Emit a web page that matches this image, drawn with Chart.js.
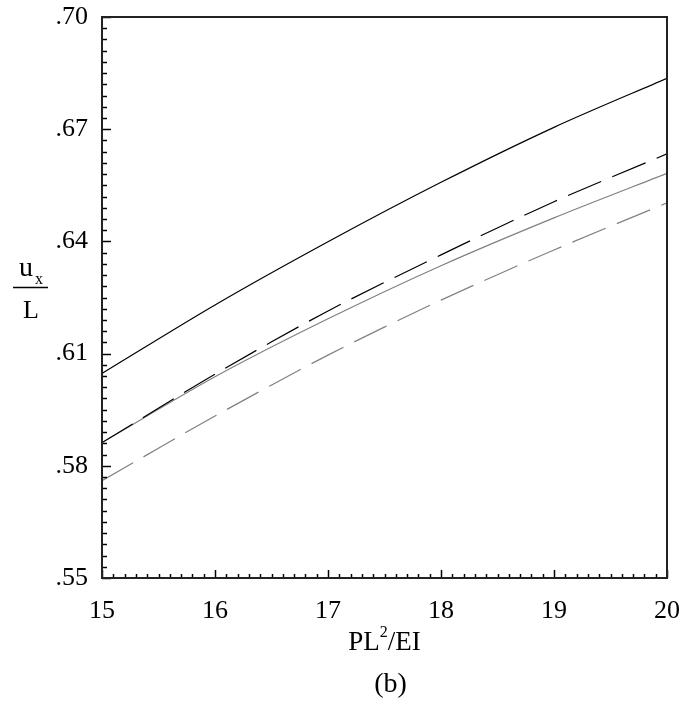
<!DOCTYPE html>
<html>
<head>
<meta charset="utf-8">
<script src="https://cdn.jsdelivr.net/npm/chart.js@4.4.0/dist/chart.umd.min.js"></script>
<style>
    body { margin: 0; background: #fff; }
    #wrap { width: 682px; height: 704px; }
</style>
</head>
<body>
<div id="wrap"><canvas id="plot-data" width="682" height="704"></canvas></div>
<script>
// values (b)
const loadValues = [15, 16, 17, 18, 19, 20];
const blackSolid = [0.6047, 0.6230, 0.6399, 0.6558, 0.6705, 0.6836];
const blackDashed = [0.5862, 0.6045, 0.6214, 0.6364, 0.6506, 0.6634];
const graySolid = [0.5862, 0.6038, 0.6193, 0.6335, 0.6463, 0.6582];
const grayDashed = [0.5760, 0.5933, 0.6096, 0.6243, 0.6377, 0.6503];

const xTicks = [15, 16, 17, 18, 19, 20];
const yTicks = [0.55, 0.58, 0.61, 0.64, 0.67, 0.70];
const xMinorStep = 0.1;
const yMinorStep = 0.003;

function toPoints(ys) {
    let pts = [];
    for (let i = 0; i < loadValues.length; i++) {
        pts.push({ x: loadValues[i], y: ys[i] });
    }
    return pts;
}

function makeSet(ys, color, dash) {
    return {
        data: toPoints(ys),
        borderColor: color,
        borderWidth: 1.2,
        borderDash: dash,
        pointRadius: 0,
        tension: 0.3,
        fill: false
    };
}

function noPadding(scale) {
    scale.paddingTop = 0;
    scale.paddingBottom = 0;
    scale.paddingLeft = 0;
    scale.paddingRight = 0;
}

const serif = '"Liberation Serif", "Times New Roman", serif';

// inward ticks, frame and axis titles
const decorations = {
    id: 'decorations',
    afterDraw(chart) {
        let ctx = chart.ctx;
        let area = chart.chartArea;
        let xs = chart.scales.x;
        let ys = chart.scales.y;
        ctx.save();
        ctx.strokeStyle = '#000';
        ctx.lineWidth = 1.5;

        // minor + major ticks on the bottom axis
        let n = Math.round((xs.max - xs.min) / xMinorStep);
        for (let i = 0; i <= n; i++) {
            let v = xs.min + i * xMinorStep;
            let px = Math.round(xs.getPixelForValue(v)) + 0.5;
            let len = (i % 10 == 0) ? 8 : 4;
            ctx.beginPath();
            ctx.moveTo(px, area.bottom);
            ctx.lineTo(px, area.bottom - len);
            ctx.stroke();
        }
        // left axis
        n = Math.round((ys.max - ys.min) / yMinorStep);
        for (let i = 0; i <= n; i++) {
            let v = ys.min + i * yMinorStep;
            let py = Math.round(ys.getPixelForValue(v)) + 0.5;
            let len = (i % 10 == 0) ? 9 : 5;
            ctx.beginPath();
            ctx.moveTo(area.left, py);
            ctx.lineTo(area.left + len, py);
            ctx.stroke();
        }

        ctx.lineWidth = 2;
        ctx.strokeStyle = '#222';
        ctx.strokeRect(area.left, area.top, area.right - area.left, area.bottom - area.top);

        // x axis title and caption
        let cx = (area.left + area.right) / 2;
        ctx.fillStyle = '#000';
        ctx.textBaseline = 'alphabetic';
        ctx.font = '27px ' + serif;
        let w1 = ctx.measureText('PL').width;
        ctx.font = '16px ' + serif;
        let w2 = ctx.measureText('2').width;
        ctx.font = '27px ' + serif;
        let w3 = ctx.measureText('/EI').width;
        let sx = cx - (w1 + w2 + w3) / 2;
        ctx.textAlign = 'left';
        ctx.fillText('PL', sx, 650);
        ctx.font = '16px ' + serif;
        ctx.fillText('2', sx + w1, 637);
        ctx.font = '27px ' + serif;
        ctx.fillText('/EI', sx + w1 + w2, 650);
        ctx.textAlign = 'center';
        ctx.font = '28px ' + serif;
        ctx.fillText('(b)', cx + 6, 692);

        // y axis title as a fraction u_x / L
        ctx.font = '28px ' + serif;
        ctx.textAlign = 'center';
        ctx.fillText('u', 26, 276);
        ctx.font = '16px ' + serif;
        ctx.fillText('x', 39, 284);
        ctx.font = '26px ' + serif;
        ctx.fillText('L', 31, 318);
        ctx.lineWidth = 1.5;
        ctx.strokeStyle = '#000';
        ctx.beginPath();
        ctx.moveTo(13, 287.5);
        ctx.lineTo(48, 287.5);
        ctx.stroke();
        ctx.restore();
    }
};

var ctx = document.getElementById('plot-data').getContext('2d');
var graph_data = new Chart(ctx, {
    type: 'line',
    data: {
        datasets: [
            makeSet(blackSolid, '#000000', []),
            makeSet(blackDashed, '#000000', [36, 12]),
            makeSet(graySolid, '#808080', []),
            makeSet(grayDashed, '#808080', [36, 12])
        ]
    },
    options: {
        responsive: false,
        animation: false,
        layout: {
            padding: { top: 17, right: 15, left: 0, bottom: 0 }
        },
        plugins: {
            legend: { display: false },
            tooltip: { enabled: false }
        },
        scales: {
            x: {
                type: 'linear',
                min: 15,
                max: 20,
                grid: { display: false, drawTicks: false },
                border: { display: false },
                afterBuildTicks: function(scale) {
                    scale.ticks = xTicks.map(function(v) { return { value: v }; });
                },
                afterFit: function(scale) {
                    scale.height = 126;
                    noPadding(scale);
                },
                ticks: {
                    padding: 18,
                    maxRotation: 0,
                    color: '#000',
                    font: { family: serif, size: 26 },
                    callback: function(value) { return String(value); }
                }
            },
            y: {
                min: 0.55,
                max: 0.70,
                grid: { display: false, drawTicks: false },
                border: { display: false },
                afterBuildTicks: function(scale) {
                    scale.ticks = yTicks.map(function(v) { return { value: v }; });
                },
                afterFit: function(scale) {
                    scale.width = 102;
                    noPadding(scale);
                },
                ticks: {
                    padding: 14,
                    color: '#000',
                    font: { family: serif, size: 26 },
                    callback: function(value) {
                        return value.toFixed(2).replace(/^0/, '');
                    }
                }
            }
        }
    },
    plugins: [decorations]
});
</script>
</body>
</html>
